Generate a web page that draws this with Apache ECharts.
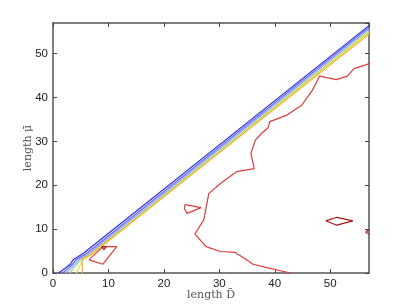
<!DOCTYPE html>
<html><head><meta charset="utf-8">
<script src="https://cdn.jsdelivr.net/npm/echarts@6/dist/echarts.min.js"></script>
<style>html,body{margin:0;padding:0;background:#fff}#c{width:407px;height:307px}</style>
</head><body><div id="c"></div>
<script>
const xTicks = [0, 10, 20, 30, 40, 50];
const yTicks = [0, 10, 20, 30, 40, 50];
const xLabel = 'length D\u0304';
const yLabel = 'length \u03bc\u0304';

// contour levels near the diagonal (x, y)
const lvlBlue1 = [[1.0,0],[2.2,1.1],[3.1,2.0],[3.7,3.1],[5.5,4.5],[57,56.4]];
const lvlBlue2 = [[1.7,0],[2.7,1.0],[3.6,2.1],[4.2,3.1],[6.0,4.4],[57,56.0]];
const lvlBlue3 = [[2.3,0],[3.2,1.0],[4.1,2.2],[4.8,3.2],[6.3,4.2],[57,55.6]];
const lvlGreen = [[3.0,0],[4.0,1.5],[5.0,3.0],[6.5,4.0],[57,55.2]];
const lvlYellow = [[4.2,0],[4.8,1.5],[5.4,3.1],[6.8,4.0],[57,54.9]];
const lvlOrange = [[5.3,0],[5.3,3.2],[6.8,4.2],[57,54.5]];

// red contour
const lvlRedMain = [[57.2,47.8],[54.3,46.6],[53.1,44.9],[51.1,44.1],[48.1,44.9],[46.8,41.7],[44.9,38.3],[42.2,36.0],[39.1,34.5],[38.8,33.1],[37.6,31.8],[36.5,30.3],[35.7,27.3],[36.3,23.8],[33.1,23.1],[30.2,20.4],[28.1,18.1],[27.2,12.1],[25.6,8.9],[27.6,6.0],[30.2,4.9],[32.9,4.7],[36.1,2.0],[38.0,1.4],[42.8,0]];
const lvlRedTri = [[23.8,15.6],[26.7,14.9],[24.2,13.6],[23.7,14.7],[23.8,15.6]];
const lvlRedQuad = [[6.5,3.0],[9.0,6.0],[11.5,6.0],[9.0,2.0],[6.5,3.0]];
// dark red contour
const lvlDarkTri = [[8.8,6.0],[9.6,6.0],[9.2,5.3],[8.8,6.0]];
const lvlDarkDiamond = [[49.2,11.9],[51.2,12.7],[54.1,11.9],[51.2,10.9],[49.2,11.9]];
const lvlDarkEdge = [[57,9.9],[56.4,9.3],[57,8.9]];

const chart = echarts.init(document.getElementById('c'), null, {renderer:'canvas'});
function line(data, color, w) {
  return {type:'line', data:data, showSymbol:false, symbol:'none', animation:false,
    lineStyle:{color:color, width:w||1.2}, xAxisIndex:0, yAxisIndex:0, silent:true};
}
const tickStyle = {show:true, inside:true, length:4, lineStyle:{color:'#444'}};
const axLine = {show:true, onZero:false, lineStyle:{color:'#555', width:1.5}};
const lblFont = {color:'#222', fontSize:11.5, fontFamily:'Liberation Sans, Arial, sans-serif'};
chart.setOption({
  backgroundColor:'#fff',
  grid:{left:53, right:38, top:23, bottom:34, containLabel:false, outerBoundsMode:'none'},
  xAxis:[
    {type:'value', min:0, max:57, interval:10, position:'bottom',
     axisLine:axLine, axisTick:tickStyle, splitLine:{show:false},
     axisLabel:Object.assign({margin:5, showMaxLabel:false, formatter:v=>xTicks.includes(v)?String(v):''}, lblFont),
     name:xLabel, nameLocation:'middle', nameGap:17, nameMoveOverlap:false,
     nameTextStyle:{color:'#555', fontSize:11, fontFamily:'DejaVu Serif, Liberation Serif, serif'}},
    {type:'value', min:0, max:57, interval:10, position:'top',
     axisLine:axLine, axisTick:tickStyle, splitLine:{show:false}, axisLabel:{show:false}}
  ],
  yAxis:[
    {type:'value', min:0, max:57, interval:10, position:'left',
     axisLine:axLine, axisTick:tickStyle, splitLine:{show:false},
     axisLabel:Object.assign({margin:5, showMaxLabel:false, formatter:v=>yTicks.includes(v)?String(v):''}, lblFont),
     name:yLabel, nameLocation:'middle', nameGap:19, nameRotate:90, nameMoveOverlap:false,
     nameTextStyle:{color:'#555', fontSize:11, fontFamily:'DejaVu Serif, Liberation Serif, serif'}},
    {type:'value', min:0, max:57, interval:10, position:'right',
     axisLine:axLine, axisTick:tickStyle, splitLine:{show:false}, axisLabel:{show:false}}
  ],
  series:[
    line(lvlBlue1,'#2a2ae6'),
    line(lvlBlue2,'#5a5aff'),
    line(lvlBlue3,'#8e9cff'),
    line(lvlGreen,'#8fe08f'),
    line(lvlYellow,'#e6e04a'),
    line(lvlOrange,'#ffb030'),
    line(lvlRedMain,'#dc3c3c'),
    line(lvlRedTri,'#dc3c3c'),
    line(lvlRedQuad,'#dc3c3c'),
    line(lvlDarkTri,'#a01818'),
    line(lvlDarkDiamond,'#a01818'),
    line(lvlDarkEdge,'#a01818')
  ]
});
</script></body></html>
